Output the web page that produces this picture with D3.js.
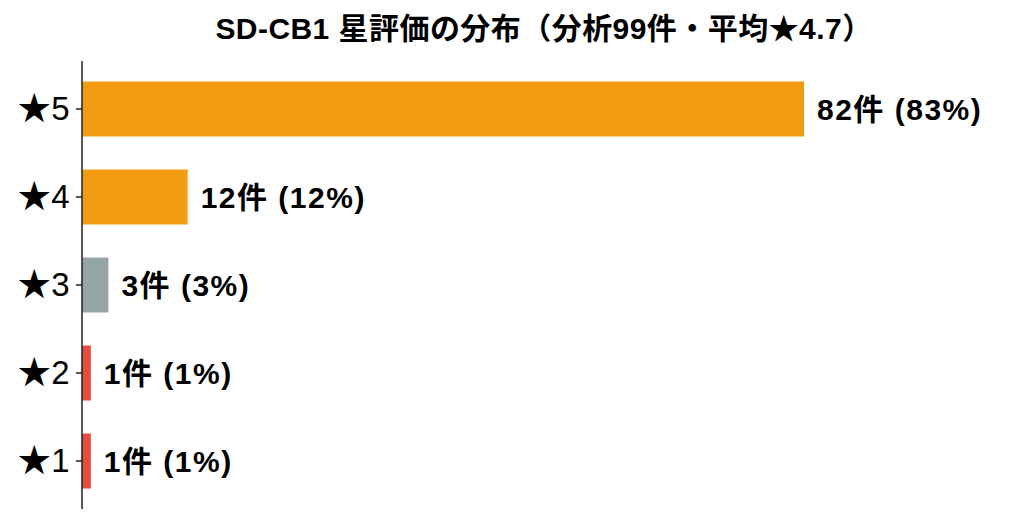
<!DOCTYPE html>
<html><head><meta charset="utf-8">
<script src="https://cdn.jsdelivr.net/npm/d3@7"></script>
<style>body{margin:0;background:#fff}svg{display:block}</style>
</head><body><svg id="c" width="1035" height="524"></svg>
<script>
const categories = ["★5","★4","★3","★2","★1"];
const counts = [82,12,3,1,1];
const percents = [83,12,3,1,1];
const colors = ["#F39C12","#F39C12","#95A5A6","#E74C3C","#E74C3C"];
const title = "SD-CB1 星評価の分布（分析99件・平均★4.7）";

const svg = d3.select("#c");
const font = "'Liberation Sans','Noto Sans CJK JP','DejaVu Sans',sans-serif";
const x0 = 82;
const x = d3.scaleLinear().domain([0,82]).range([x0,804]);
const y = d3.scaleBand().domain(categories).range([65,505]).paddingInner(0.375).paddingOuter(0.1875);

svg.append("text").attr("x",544).attr("y",28).attr("text-anchor","middle")
  .attr("dominant-baseline","central").attr("font-family",font).attr("font-weight","bold")
  .attr("font-size",30).attr("letter-spacing",0.45).attr("fill","#000").text(title);

svg.selectAll("rect.bar").data(categories).join("rect").attr("class","bar")
  .attr("x",x(0)).attr("y",d=>y(d)).attr("height",y.bandwidth())
  .attr("width",(d,i)=>x(counts[i])-x(0)).attr("fill",(d,i)=>colors[i]);

const ax = svg.append("g").attr("transform",`translate(${x0},0)`)
  .call(d3.axisLeft(y).tickSize(6).tickPadding(6));
ax.select(".domain").attr("d","M0,61V509").attr("stroke","#222").attr("stroke-width",1.5);
ax.selectAll(".tick line").attr("stroke","#222").attr("stroke-width",1.5);
ax.selectAll(".tick text").attr("font-family",font).attr("font-size",33).attr("letter-spacing",0.5).attr("fill","#000");

svg.selectAll("text.lab").data(categories).join("text").attr("class","lab")
  .attr("x",(d,i)=>x(counts[i])+13).attr("y",d=>y(d)+y.bandwidth()/2)
  .attr("dominant-baseline","central").attr("font-family",font).attr("font-weight","bold")
  .attr("font-size",30).attr("letter-spacing",1.5).attr("fill","#000")
  .text((d,i)=>`${counts[i]}件 (${percents[i]}%)`);
</script></body></html>
